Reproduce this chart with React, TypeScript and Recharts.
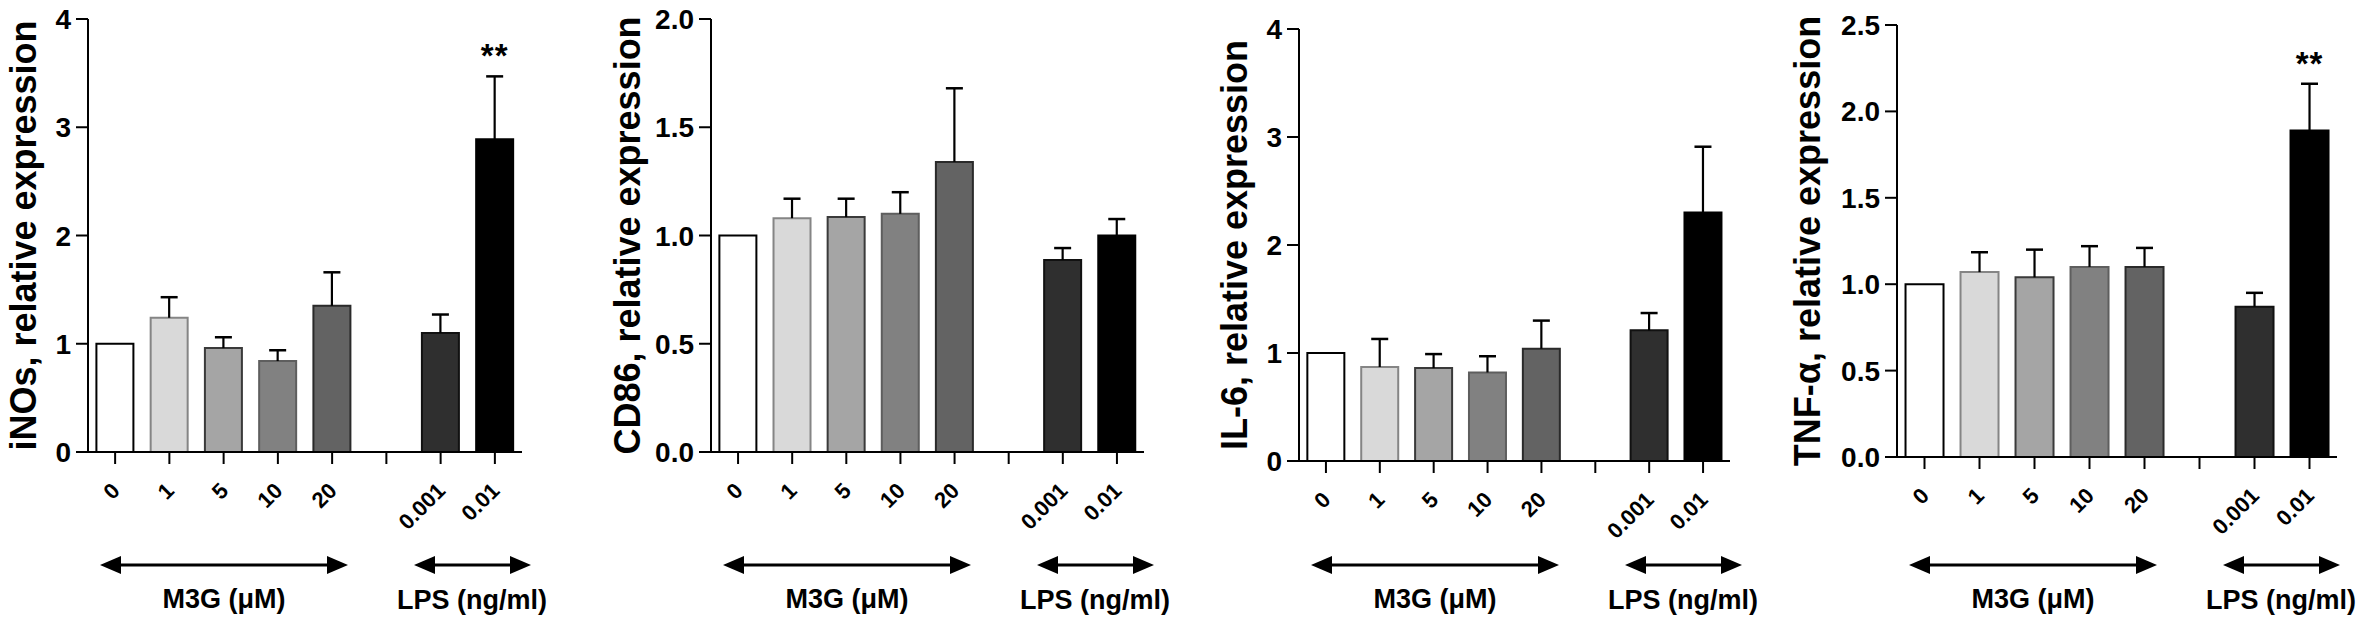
import React from "react";
import { BarChart, Bar, XAxis, YAxis, Cell, LabelList } from "recharts";

// ---------- data ----------
const categories = ["0", "1", "5", "10", "20", "", "0.001", "0.01"];

const inosMean = [1.0, 1.24, 0.96, 0.84, 1.35, null, 1.1, 2.89];
const inosErr = [0, 0.19, 0.1, 0.1, 0.31, null, 0.17, 0.58];
const inosSig = ["", "", "", "", "", "", "", "**"];

const cd86Mean = [1.0, 1.08, 1.085, 1.1, 1.34, null, 0.887, 1.0];
const cd86Err = [0, 0.09, 0.085, 0.1, 0.34, null, 0.055, 0.076];
const cd86Sig = ["", "", "", "", "", "", "", ""];

const il6Mean = [1.0, 0.87, 0.86, 0.82, 1.04, null, 1.21, 2.3];
const il6Err = [0, 0.26, 0.13, 0.15, 0.26, null, 0.16, 0.61];
const il6Sig = ["", "", "", "", "", "", "", ""];

const tnfMean = [1.0, 1.07, 1.04, 1.1, 1.1, null, 0.87, 1.89];
const tnfErr = [0, 0.115, 0.16, 0.12, 0.11, null, 0.08, 0.27];
const tnfSig = ["", "", "", "", "", "", "", "**"];

const inosTicks = [0, 1, 2, 3, 4];
const cd86Ticks = [0, 0.5, 1, 1.5, 2];
const il6Ticks = [0, 1, 2, 3, 4];
const tnfTicks = [0, 0.5, 1, 1.5, 2, 2.5];

const barFills = ["#ffffff", "#d9d9d9", "#a5a5a5", "#818181", "#636363", "#ffffff", "#2f2f2f", "#000000"];
const barStrokes = ["#000000", "#858585", "#3a3a3a", "#5e5e5e", "#2a2a2a", "#000000", "#111111", "#000000"];

const FONT = "'Liberation Sans', Arial, Helvetica, sans-serif";

// ---------- layout ----------
const Y_AXIS_W = 110;
const X_AXIS_H = 100;
const H = 624;

const panels = [
  { id: "inos", left: -22, width: 580, plotW: 434, top: 19, zeroY: 452, max: 4, ticks: inosTicks, dec: 0, label: "iNOs, relative expression", labelGap: 52, mean: inosMean, err: inosErr, sig: inosSig },
  { id: "cd86", left: 601, width: 580, plotW: 433, top: 19, zeroY: 452, max: 2, ticks: cd86Ticks, dec: 1, label: "CD86, relative expression", labelGap: 71, mean: cd86Mean, err: cd86Err, sig: cd86Sig },
  { id: "il6", left: 1189, width: 580, plotW: 431, top: 29, zeroY: 461, max: 4, ticks: il6Ticks, dec: 0, label: "IL-6, relative expression", labelGap: 52, mean: il6Mean, err: il6Err, sig: il6Sig },
  { id: "tnf", left: 1787, width: 575, plotW: 440, top: 25, zeroY: 457, max: 2.5, ticks: tnfTicks, dec: 1, label: "TNF-\u03b1, relative expression", labelGap: 77, mean: tnfMean, err: tnfErr, sig: tnfSig },
];

const XTick = (props: any) => {
  const { x, y, payload } = props;
  const ax = x + 6;
  const ay = y + 26;
  return (
    <text
      x={ax}
      y={ay}
      transform={`rotate(-45, ${ax}, ${ay})`}
      textAnchor="end"
      fontSize={22}
      fontWeight={700}
      fontFamily={FONT}
      fill="#000"
    >
      {payload.value}
    </text>
  );
};

const makeYTick = (dec: number) => (props: any) => {
  const { x, y, payload } = props;
  return (
    <text x={x - 3} y={y} dy="0.36em" textAnchor="end" fontSize={28} fontWeight={700} fontFamily={FONT} fill="#000">
      {Number(payload.value).toFixed(dec)}
    </text>
  );
};

const ErrShape = (props: any) => {
  const { x, y, width, height } = props;
  if (!height || height <= 0 || !isFinite(y)) return null;
  const cx = x + width / 2;
  return (
    <g>
      <line x1={cx} y1={y + height} x2={cx} y2={y} stroke="#000" strokeWidth={2.2} />
      <line x1={cx - 8.5} y1={y} x2={cx + 8.5} y2={y} stroke="#000" strokeWidth={2.5} />
    </g>
  );
};

const StarLabel = (props: any) => {
  const { x, y, width, value } = props;
  if (!value) return null;
  return (
    <text x={x + width / 2} y={y - 9} textAnchor="middle" fontSize={33} fontWeight={700} fontFamily={FONT} letterSpacing={1} fill="#000">
      {value}
    </text>
  );
};

const Arrow = ({ x1, x2, y }: { x1: number; x2: number; y: number }) => (
  <g>
    <line x1={x1 + 10} y1={y} x2={x2 - 10} y2={y} stroke="#000" strokeWidth={3} />
    <polygon points={`${x1},${y} ${x1 + 21},${y - 9} ${x1 + 21},${y + 9}`} fill="#000" />
    <polygon points={`${x2},${y} ${x2 - 21},${y - 9} ${x2 - 21},${y + 9}`} fill="#000" />
  </g>
);

const Panel = ({ p }: { p: any }) => {
  const data = categories.map((c, i) => ({ cat: c, mean: p.mean[i], err: p.err[i], sig: p.sig[i] }));
  const rightMargin = p.width - Y_AXIS_W - p.plotW;
  const bottomMargin = H - p.zeroY - X_AXIS_H;
  const ax = Y_AXIS_W;
  return (
    <div style={{ position: "absolute", left: p.left, top: 0, width: p.width, height: H }}>
      <BarChart
        width={p.width}
        height={H}
        data={data}
        margin={{ top: p.top, right: rightMargin, bottom: bottomMargin, left: 0 }}
        barCategoryGap="15.5%"
      >
        <XAxis
          dataKey="cat"
          height={X_AXIS_H}
          interval={0}
          tickSize={12}
          axisLine={{ stroke: "#000", strokeWidth: 2 }}
          tickLine={{ stroke: "#000", strokeWidth: 2 }}
          tick={<XTick />}
        />
        <YAxis
          width={Y_AXIS_W}
          domain={[0, p.max]}
          ticks={p.ticks}
          interval={0}
          allowDataOverflow
          tickSize={12}
          axisLine={{ stroke: "#000", strokeWidth: 2 }}
          tickLine={{ stroke: "#000", strokeWidth: 2 }}
          tick={makeYTick(p.dec)}
          label={{
            content: (lp: any) => {
              const vb = lp.viewBox || {};
              const cy = (vb.y || 0) + (vb.height || 0) / 2;
              const lx = Y_AXIS_W - p.labelGap;
              return (
                <text
                  x={lx}
                  y={cy}
                  transform={`rotate(-90, ${lx}, ${cy})`}
                  textAnchor="middle"
                  fontSize={36}
                  fontWeight={700}
                  fontFamily={FONT}
                  fill="#000"
                >
                  {p.label}
                </text>
              );
            },
          }}
        />
        <Bar dataKey="mean" stackId="s" isAnimationActive={false} strokeWidth={2}>
          {data.map((d, i) => (
            <Cell key={i} fill={barFills[i]} stroke={barStrokes[i]} />
          ))}
        </Bar>
        <Bar dataKey="err" stackId="s" isAnimationActive={false} shape={<ErrShape />} fill="none">
          <LabelList dataKey="sig" content={<StarLabel />} />
        </Bar>
      </BarChart>
      <svg
        width={p.width}
        height={H}
        style={{ position: "absolute", left: 0, top: 0, pointerEvents: "none" }}
      >
        <Arrow x1={ax + 12} x2={ax + 260} y={565} />
        <Arrow x1={ax + 326} x2={ax + 443} y={565} />
        <text x={ax + 136} y={608} textAnchor="middle" fontSize={27} fontWeight={700} fontFamily={FONT} fill="#000">
          M3G ({"\u03bc"}M)
        </text>
        <text x={ax + 384} y={609} textAnchor="middle" fontSize={27} fontWeight={700} fontFamily={FONT} fill="#000">
          LPS (ng/ml)
        </text>
      </svg>
    </div>
  );
};

export default function App() {
  return (
    <div style={{ position: "absolute", left: 0, top: 0, width: 2362, height: H, background: "#fff", overflow: "hidden" }}>
      {panels.map((p) => (
        <Panel key={p.id} p={p} />
      ))}
    </div>
  );
}
